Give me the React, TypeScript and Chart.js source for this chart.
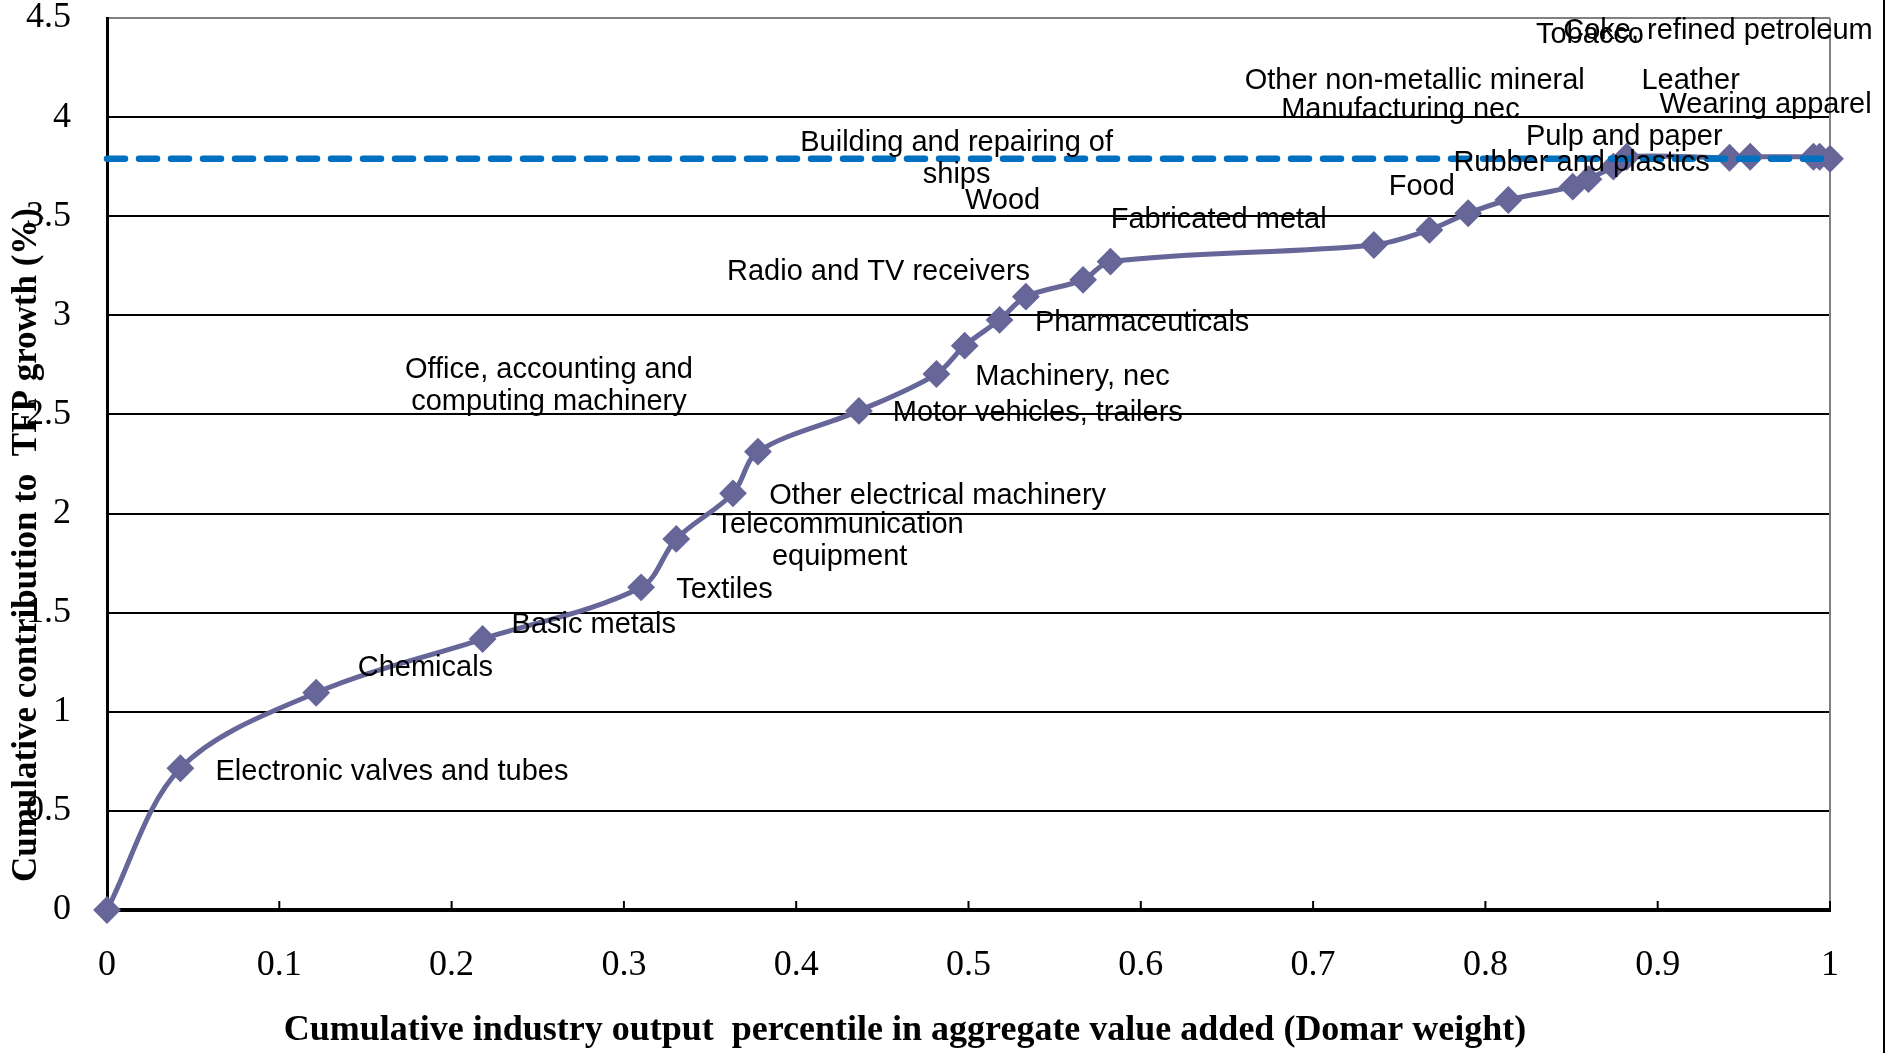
import React, { useEffect, useRef } from 'react';
import { Chart, registerables } from 'chart.js';

Chart.register(...registerables);

// ---- Data ----
const cumulativeDomarWeight = [
  0, 0.0426, 0.1214, 0.218, 0.31, 0.3304, 0.3633, 0.3778, 0.4364, 0.4814,
  0.4978, 0.518, 0.5333, 0.5665, 0.5824, 0.7353, 0.7675, 0.79, 0.8133, 0.8507,
  0.8598, 0.8743, 0.882, 0.9417, 0.9537, 0.9904, 0.994, 1.0,
];
const cumulativeTfpContribution = [
  0, 0.715, 1.096, 1.367, 1.628, 1.872, 2.102, 2.312, 2.518, 2.704,
  2.847, 2.977, 3.094, 3.179, 3.271, 3.355, 3.431, 3.515, 3.582, 3.649,
  3.687, 3.75, 3.8, 3.795, 3.8, 3.8, 3.8, 3.79,
];
const aggregateTfpGrowth = 3.79;

const xTickValues = [0, 0.1, 0.2, 0.3, 0.4, 0.5, 0.6, 0.7, 0.8, 0.9, 1];
const yTickValues = [0, 0.5, 1, 1.5, 2, 2.5, 3, 3.5, 4, 4.5];

const xTitle = 'Cumulative industry output  percentile in aggregate value added (Domar weight)';
const yTitle = 'Cumulative contribution to  TFP growth (%)';

// Industry labels (text lines) and their anchor in data space (label centre)
const industryLabels: string[][] = [
  ['Electronic valves and tubes'],
  ['Chemicals'],
  ['Basic metals'],
  ['Textiles'],
  ['Telecommunication', 'equipment'],
  ['Other electrical machinery'],
  ['Office, accounting and', 'computing machinery'],
  ['Motor vehicles, trailers'],
  ['Machinery, nec'],
  ['Pharmaceuticals'],
  ['Radio and TV receivers'],
  ['Wood'],
  ['Building and repairing of', 'ships'],
  ['Fabricated metal'],
  ['Food'],
  ['Other non-metallic mineral'],
  ['Manufacturing nec'],
  ['Rubber and plastics'],
  ['Pulp and paper'],
  ['Leather'],
  ['Wearing apparel'],
  ['Tobacco'],
  ['Coke, refined petroleum'],
];
const labelAnchorX = [
  0.1654, 0.1848, 0.2825, 0.3584, 0.4252, 0.4821, 0.2565, 0.5402, 0.5604, 0.6008,
  0.4478, 0.5198, 0.4931, 0.6452, 0.7631, 0.759, 0.7507, 0.8558, 0.8806, 0.9191,
  0.9626, 0.8607, 0.935,
];
const labelAnchorY = [
  0.698, 1.2195, 1.438, 1.6145, 1.861, 2.089, 2.643, 2.506, 2.691, 2.963,
  3.219, 3.577, 3.788, 3.481, 3.648, 4.183, 4.036, 3.767, 3.902, 4.183,
  4.059, 4.415, 4.433,
];

// ---- Styles ----
const LINE_COLOR = '#666699';
const DASH_COLOR = '#0070C0';
const SERIF = '"Liberation Serif", "Times New Roman", serif';
const SANS = '"Liberation Sans", Arial, sans-serif';

const decorPlugin = {
  id: 'decor',
  beforeDatasetsDraw(chart: any) {
    const { ctx, chartArea } = chart;
    const x = chart.scales.x;
    ctx.save();
    // right plot border (gray)
    ctx.strokeStyle = '#808080';
    ctx.lineWidth = 2;
    ctx.beginPath();
    ctx.moveTo(chartArea.right, chartArea.top);
    ctx.lineTo(chartArea.right, chartArea.bottom);
    ctx.stroke();
    // inside tick marks on x axis
    ctx.strokeStyle = '#000';
    ctx.lineWidth = 2;
    xTickValues.forEach((v) => {
      const px = x.getPixelForValue(v);
      ctx.beginPath();
      ctx.moveTo(px, chartArea.bottom);
      ctx.lineTo(px, chartArea.bottom - 9);
      ctx.stroke();
    });
    ctx.restore();
  },
  afterDatasetsDraw(chart: any) {
    const { ctx } = chart;
    const x = chart.scales.x;
    const y = chart.scales.y;
    ctx.save();
    // industry labels
    ctx.fillStyle = '#000';
    ctx.font = `29px ${SANS}`;
    ctx.textAlign = 'center';
    ctx.textBaseline = 'middle';
    const lh = 31.5;
    industryLabels.forEach((lines, i) => {
      const cx = x.getPixelForValue(labelAnchorX[i]);
      const cy = y.getPixelForValue(labelAnchorY[i]);
      const start = cy - ((lines.length - 1) * lh) / 2;
      lines.forEach((t, j) => ctx.fillText(t, cx, start + j * lh));
    });
    // axis titles
    ctx.font = `bold 36px ${SERIF}`;
    ctx.fillText(xTitle, 905, 1031);
    ctx.save();
    ctx.translate(27, 545);
    ctx.rotate(-Math.PI / 2);
    ctx.font = `bold 35px ${SERIF}`;
    ctx.fillText(yTitle, 0, 0);
    ctx.restore();
    // outer frame line on the right
    ctx.strokeStyle = '#000';
    ctx.lineWidth = 2;
    ctx.beginPath();
    ctx.moveTo(1884, 0);
    ctx.lineTo(1884, 1053);
    ctx.stroke();
    ctx.restore();
  },
};

export default function App() {
  const canvasRef = useRef<HTMLCanvasElement | null>(null);

  useEffect(() => {
    if (!canvasRef.current) return;
    const curve = cumulativeDomarWeight.map((v, i) => ({ x: v, y: cumulativeTfpContribution[i] }));
    const total = [
      { x: xTickValues[0], y: aggregateTfpGrowth },
      { x: xTickValues[xTickValues.length - 1], y: aggregateTfpGrowth },
    ];
    const chart = new Chart(canvasRef.current, {
      type: 'line',
      data: {
        datasets: [
          {
            label: 'Aggregate TFP growth',
            data: total,
            borderColor: DASH_COLOR,
            borderWidth: 6.5,
            borderDash: [18, 14],
            borderCapStyle: 'round',
            pointRadius: 0,
            fill: false,
            order: 0,
            clip: false,
          },
          {
            label: 'Cumulative contribution',
            data: curve,
            borderColor: LINE_COLOR,
            backgroundColor: LINE_COLOR,
            borderWidth: 5,
            tension: 0.33,
            pointStyle: 'rectRot',
            pointRadius: 12.5,
            pointBorderWidth: 2,
            pointBackgroundColor: LINE_COLOR,
            pointBorderColor: LINE_COLOR,
            fill: false,
            order: 1,
            clip: false,
          },
        ],
      },
      options: {
        animation: false,
        responsive: false,
        maintainAspectRatio: false,
        layout: { padding: { top: 18, right: 68, left: 0, bottom: 0 } },
        plugins: {
          legend: { display: false },
          tooltip: { enabled: false },
          title: { display: false },
        },
        scales: {
          x: {
            type: 'linear',
            min: 0,
            max: 1,
            afterBuildTicks: (s: any) => {
              s.ticks = xTickValues.map((v) => ({ value: v }));
            },
            afterFit: (s: any) => {
              s.height = 143;
              s.paddingLeft = 0;
              s.paddingRight = 0;
            },
            grid: { display: false, drawTicks: false },
            border: { display: true, color: '#000', width: 4 },
            ticks: {
              padding: 34,
              color: '#000',
              font: { family: SERIF, size: 36 },
              maxRotation: 0,
              autoSkip: false,
              callback: (v: any) => String(v),
            },
          },
          y: {
            type: 'linear',
            min: 0,
            max: 4.5,
            afterBuildTicks: (s: any) => {
              s.ticks = yTickValues.map((v) => ({ value: v }));
            },
            afterFit: (s: any) => {
              s.width = 107;
              s.paddingTop = 0;
              s.paddingBottom = 0;
            },
            grid: {
              display: true,
              drawTicks: false,
              lineWidth: 2,
              color: (c: any) => (c.tick && c.tick.value === 4.5 ? '#808080' : '#000'),
            },
            border: { display: true, color: '#000', width: 3 },
            ticks: {
              padding: 36,
              color: '#000',
              font: { family: SERIF, size: 36 },
              autoSkip: false,
              callback: (v: any) => String(v),
            },
          },
        },
      },
      plugins: [decorPlugin],
    } as any);
    return () => chart.destroy();
  }, []);

  return (
    <div style={{ position: 'fixed', left: 0, top: 0, width: 1898, height: 1053, background: '#fff' }}>
      <canvas ref={canvasRef} width={1898} height={1053} style={{ display: 'block', width: 1898, height: 1053 }} />
    </div>
  );
}
